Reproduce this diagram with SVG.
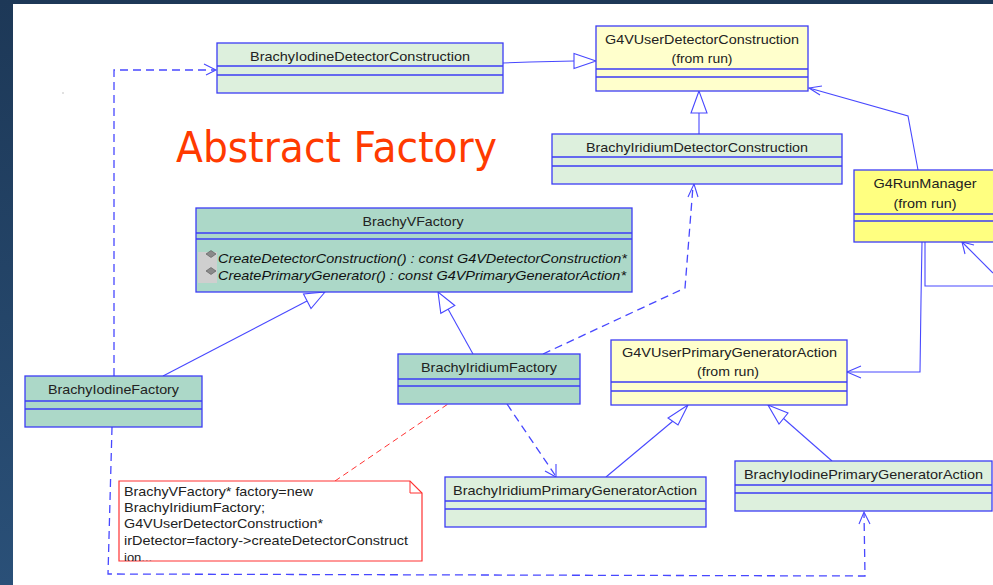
<svg xmlns="http://www.w3.org/2000/svg" width="993" height="585" viewBox="0 0 993 585">
<defs>
<linearGradient id="bg" x1="0" y1="0" x2="0" y2="1">
<stop offset="0" stop-color="#1d3857"/>
<stop offset="1" stop-color="#2a5078"/>
</linearGradient>
<clipPath id="noteClip"><rect x="119" y="481" width="303" height="80"/></clipPath>
<style>
.box{stroke:#3c3cf5;stroke-width:1.3}
.lg{fill:#ddf0dd}
.tl{fill:#acd8c8}
.yl{fill:#ffffcc}
.ry{fill:#ffff80}
.sep{stroke:#3c3cf5;stroke-width:1.3;fill:none}
.t{font-family:"Liberation Sans",Arial,sans-serif;font-size:13px;fill:#222;text-anchor:middle}
.m{font-family:"Liberation Sans",Arial,sans-serif;font-size:13px;fill:#111;font-style:italic}
.n{font-family:"Liberation Sans",Arial,sans-serif;font-size:13px;fill:#222}
.ln{stroke:#4848ff;stroke-width:1.1;fill:none}
.ds{stroke:#4848ff;stroke-width:1.3;fill:none;stroke-dasharray:8,5}
.tri{stroke:#4848ff;stroke-width:1.1;fill:#fff}
.rd{stroke:#ff3333;stroke-width:1;fill:none;stroke-dasharray:6,4}
</style>
</defs>
<rect x="0" y="0" width="993" height="585" fill="url(#bg)"/>
<rect x="13" y="4" width="980" height="581" fill="#fff"/>
<rect x="62.5" y="92.5" width="1" height="1" fill="#888"/>
<text x="176" y="162" font-family="'DejaVu Sans','Liberation Sans',sans-serif" font-size="42" fill="#ff3a00" textLength="321" lengthAdjust="spacingAndGlyphs">Abstract Factory</text>

<g id="connectors">
<!-- Iodine DetCon -> G4VUserDetCon generalization -->
<polyline class="ln" points="503,63 530,62 574,61"/>
<polygon class="tri" points="596,61 574,53.5 574,68.5"/>
<!-- Iridium DetCon -> G4VUserDetCon -->
<line class="ln" x1="699" y1="134" x2="699" y2="113"/>
<polygon class="tri" points="699,91 691,113 707,113"/>
<!-- G4RunManager -> G4VUserDetCon -->
<polyline class="ln" points="918,170 908,116 809,88"/>
<polyline class="ln" points="822,86 809,88 820,95"/>
<!-- G4RunManager -> G4VUserPrimaryGeneratorAction -->
<polyline class="ln" points="922,242 921,300 920,372 847,372"/>
<polyline class="ln" points="861,366 847,372 861,378"/>
<!-- G4RunManager loops -->
<polyline class="ln" points="925,242 925,286 993,286"/>
<line class="ln" x1="993" y1="273" x2="962" y2="242"/>
<polyline class="ln" points="965,254 962,242 974,245"/>
<!-- IodineFactory -> IodineDetCon dashed -->
<polyline class="ds" points="114,376 114,70 215,70"/>
<polyline class="ln" points="204,64 216,70 206,75"/>
<!-- IodineFactory -> IodinePrimaryGen dashed -->
<polyline class="ds" points="112,427 108,574 865,576 864,513"/>
<polyline class="ln" points="859,524 864,512 870,524"/>
<!-- IodineFactory -> BrachyVFactory generalization -->
<line class="ln" x1="163" y1="376" x2="307" y2="301"/>
<polygon class="tri" points="325,292 303.5,294 311,308.5"/>
<!-- IridiumFactory -> BrachyVFactory generalization -->
<line class="ln" x1="473" y1="354" x2="448" y2="309"/>
<polygon class="tri" points="438,292 440.8,313.3 454.8,305.5"/>
<!-- IridiumFactory -> IridiumDetCon dashed -->
<polyline class="ds" points="543,354 685,288 693,186"/>
<polyline class="ln" points="688,197 694,184 698,197"/>
<!-- IridiumFactory -> IridiumPrimaryGen dashed -->
<polyline class="ds" points="507,404 555,475"/>
<polyline class="ln" points="545,471 556,477 556,464"/>
<!-- IridiumPrimaryGen -> G4VUserPrimaryGen -->
<line class="ln" x1="606" y1="477" x2="673" y2="421"/>
<polygon class="tri" points="688,405 668,418 678,425"/>
<!-- IodinePrimaryGen -> G4VUserPrimaryGen -->
<line class="ln" x1="832" y1="461" x2="783" y2="418"/>
<polygon class="tri" points="768,405 788,413 779,424"/>
<!-- note anchor -->
<line class="rd" x1="335" y1="481" x2="448" y2="404"/>
</g>

<g id="BrachyIodineDetectorConstruction">
<rect class="box lg" x="217" y="43" width="286" height="50"/>
<path class="sep" d="M217,66H503M217,75H503"/>
<text class="t" x="360" y="61" textLength="220" lengthAdjust="spacingAndGlyphs">BrachyIodineDetectorConstruction</text>
</g>

<g id="G4VUserDetectorConstruction">
<rect class="box yl" x="596" y="26" width="212" height="65"/>
<path class="sep" d="M596,69H808M596,77H808"/>
<text class="t" x="702" y="44" textLength="194" lengthAdjust="spacingAndGlyphs">G4VUserDetectorConstruction</text>
<text class="t" x="702" y="63" textLength="61" lengthAdjust="spacingAndGlyphs">(from run)</text>
</g>

<g id="BrachyIridiumDetectorConstruction">
<rect class="box lg" x="552" y="134" width="290" height="50"/>
<path class="sep" d="M552,157H842M552,166H842"/>
<text class="t" x="697" y="152" textLength="222" lengthAdjust="spacingAndGlyphs">BrachyIridiumDetectorConstruction</text>
</g>

<g id="G4RunManager">
<rect class="box ry" x="854" y="170" width="143" height="72"/>
<path class="sep" d="M854,214H997M854,221H997"/>
<text class="t" x="925" y="188" textLength="103" lengthAdjust="spacingAndGlyphs">G4RunManager</text>
<text class="t" x="925" y="208" textLength="63" lengthAdjust="spacingAndGlyphs">(from run)</text>
</g>

<g id="BrachyVFactory">
<rect class="box tl" x="196" y="208" width="436" height="84"/>
<path class="sep" d="M196,233H632M196,239H632"/>
<text class="t" x="413" y="226" textLength="101" lengthAdjust="spacingAndGlyphs">BrachyVFactory</text>
<rect x="198" y="252" width="19" height="31" fill="#cfcfcf"/>
<path d="M206,254l5,-3.5 5,3.5 -5,3.5z" fill="#8a8a8a" stroke="#555" stroke-width="0.6"/>
<path d="M206,271l5,-3.5 5,3.5 -5,3.5z" fill="#8a8a8a" stroke="#555" stroke-width="0.6"/>
<text class="m" x="218" y="263" textLength="409" lengthAdjust="spacingAndGlyphs">CreateDetectorConstruction() : const G4VDetectorConstruction*</text>
<text class="m" x="218" y="280" textLength="408" lengthAdjust="spacingAndGlyphs">CreatePrimaryGenerator() : const G4VPrimaryGeneratorAction*</text>
</g>

<g id="BrachyIodineFactory">
<rect class="box tl" x="25" y="376" width="177" height="51"/>
<path class="sep" d="M25,401H202M25,409H202"/>
<text class="t" x="113.5" y="394" textLength="131" lengthAdjust="spacingAndGlyphs">BrachyIodineFactory</text>
</g>

<g id="BrachyIridiumFactory">
<rect class="box tl" x="398" y="354" width="182" height="50"/>
<path class="sep" d="M398,379H580M398,386H580"/>
<text class="t" x="489" y="372" textLength="136" lengthAdjust="spacingAndGlyphs">BrachyIridiumFactory</text>
</g>

<g id="G4VUserPrimaryGeneratorAction">
<rect class="box yl" x="611" y="340" width="236" height="65"/>
<path class="sep" d="M611,382H847M611,391H847"/>
<text class="t" x="729.5" y="357" textLength="215" lengthAdjust="spacingAndGlyphs">G4VUserPrimaryGeneratorAction</text>
<text class="t" x="728" y="376" textLength="62" lengthAdjust="spacingAndGlyphs">(from run)</text>
</g>

<g id="BrachyIridiumPrimaryGeneratorAction">
<rect class="box lg" x="445" y="477" width="261" height="50"/>
<path class="sep" d="M445,501H706M445,509H706"/>
<text class="t" x="575" y="495" textLength="244" lengthAdjust="spacingAndGlyphs">BrachyIridiumPrimaryGeneratorAction</text>
</g>

<g id="BrachyIodinePrimaryGeneratorAction">
<rect class="box lg" x="735" y="461" width="257" height="50"/>
<path class="sep" d="M735,485H992M735,493H992"/>
<text class="t" x="863.5" y="479" textLength="239" lengthAdjust="spacingAndGlyphs">BrachyIodinePrimaryGeneratorAction</text>
</g>

<g id="note">
<path d="M119,481H410L422,493V561H119Z" fill="#fff" stroke="#ff3333" stroke-width="1.2"/>
<path d="M410,481V493H422" fill="none" stroke="#ff3333" stroke-width="1"/>
<g clip-path="url(#noteClip)">
<text class="n" x="124" y="496" textLength="189" lengthAdjust="spacingAndGlyphs">BrachyVFactory* factory=new</text>
<text class="n" x="124" y="512" textLength="141" lengthAdjust="spacingAndGlyphs">BrachyIridiumFactory;</text>
<text class="n" x="124" y="528" textLength="199" lengthAdjust="spacingAndGlyphs">G4VUserDetectorConstruction*</text>
<text class="n" x="124" y="545" textLength="284" lengthAdjust="spacingAndGlyphs">irDetector=factory-&gt;createDetectorConstruct</text>
<text class="n" x="124" y="562">ion...</text>
</g>
</g>
</svg>
